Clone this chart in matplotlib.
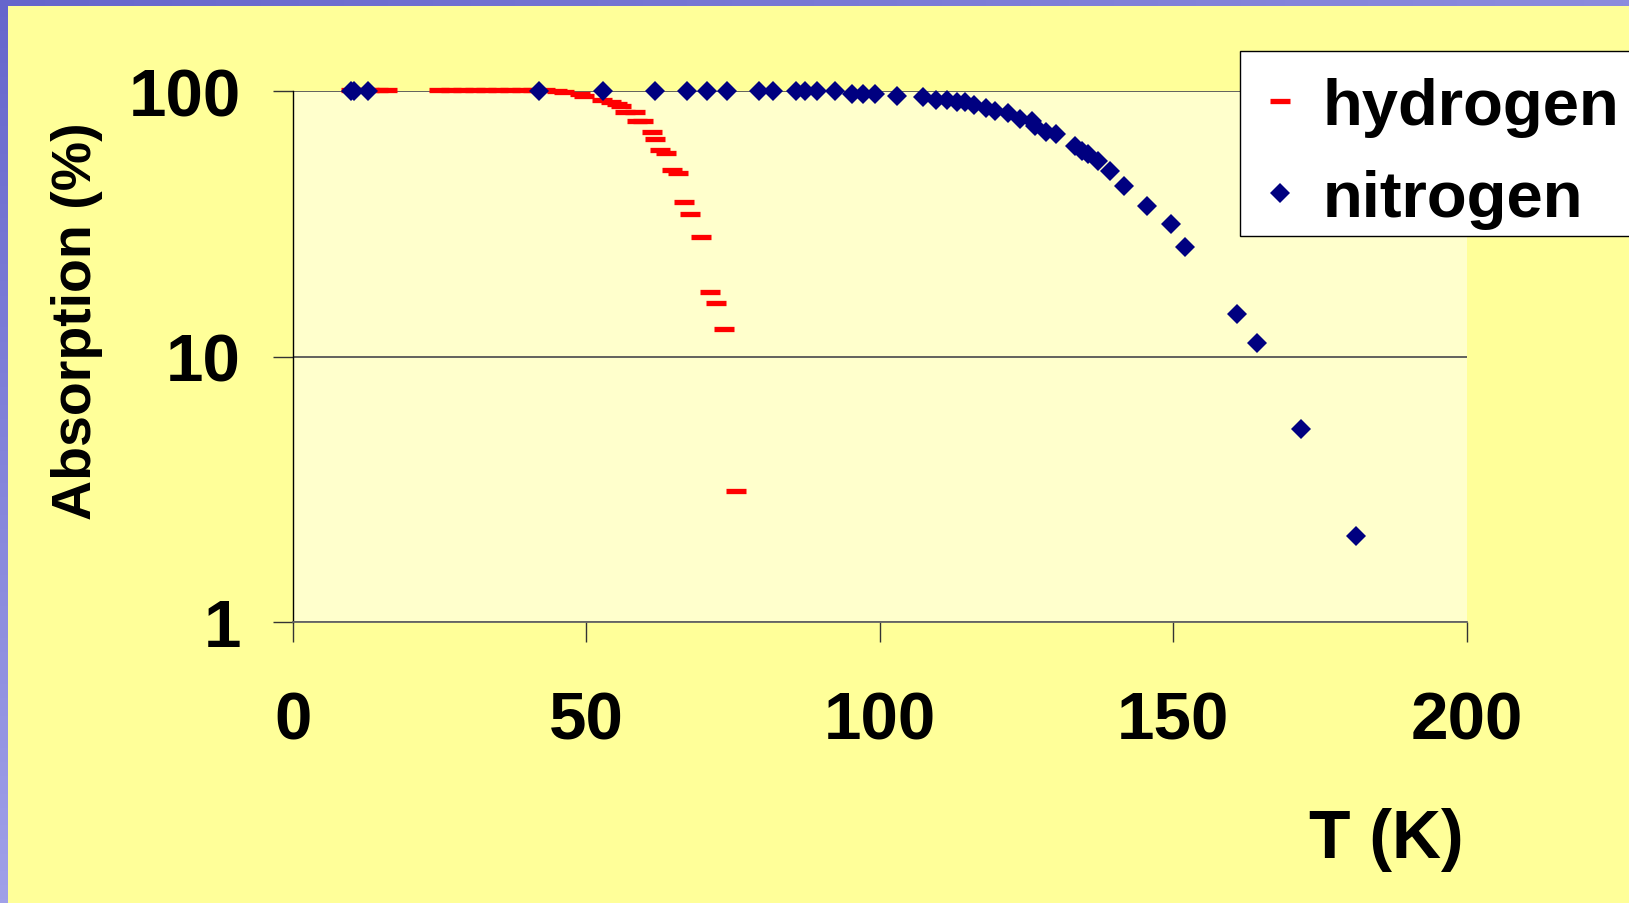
import numpy as np
import matplotlib
matplotlib.use('Agg')
import matplotlib.pyplot as plt
from matplotlib.patches import Rectangle

plt.rcParams['font.family'] = ['Liberation Sans', 'DejaVu Sans']
plt.rcParams['font.weight'] = 'bold'

# ── data ────────────────────────────────────────────────────────────────────
h_temp = [10, 11.5, 13, 14.5, 16,
          25, 27, 29, 31, 33, 35, 37, 39, 41, 43, 45, 46.2, 48.9, 49.6,
          52.7, 54.3, 55.2, 56.0, 56.6, 58.3, 58.6, 59.7, 61.2, 61.7,
          62.6, 63.6, 64.6, 65.6, 66.7, 67.6, 69.6, 71.1, 72.1, 73.5, 75.5]
h_abs = [101, 101, 101, 101, 101,
         101, 101, 101, 101, 101, 101, 101, 101, 101, 101, 100.5, 99.1, 97.7, 96.3,
         93.0, 90.9, 89.5, 87.8, 83.3, 83.3, 77.1, 77.1, 70.1, 66.1,
         60.3, 58.6, 50.6, 49.1, 38.2, 34.5, 28.2, 17.6, 15.9, 12.7, 3.11]

n_temp = [9.9, 10.4, 12.9, 42.0, 52.8, 61.7, 67.1, 70.5, 74.0,
          79.4, 81.9, 85.7, 87.3, 89.4, 92.3, 95.2, 97.2, 99.2, 102.9,
          107.4, 109.6, 111.5, 113.1, 114.5, 116.1, 118.1, 119.6, 121.9,
          123.9, 125.9, 126.5, 128.4, 130.0, 133.3, 134.4, 135.5, 137.2,
          139.2, 141.6, 145.6, 149.6, 152.0, 160.9, 164.3, 171.7, 181.1]
n_abs = [100, 100, 100, 100, 100, 100, 100, 100, 100,
         100, 100, 100, 100, 100, 100, 97.7, 97.7, 97.7, 96.3,
         94.9, 92.7, 92.7, 90.9, 90.9, 89.0, 86.5, 84.1, 82.6,
         78.6, 77.1, 74.2, 70.4, 69.0, 62.4, 59.7, 58.1, 54.8,
         50.2, 43.9, 36.9, 31.6, 25.9, 14.5, 11.3, 5.36, 2.11]

x_ticks = [0, 50, 100, 150, 200]
y_ticks = [1, 10, 100]

W, H = 1629, 904
fig = plt.figure(figsize=(W / 100, H / 100), dpi=100, facecolor='#FFFF99')

# purple frame bands at top and left
top = fig.add_axes([0, 1 - 7 / H, 1, 7 / H])
grad = np.linspace(0, 1, 256)
top_img = np.zeros((1, 256, 3))
top_img[0] = np.outer(1 - grad, [102, 102, 204]) / 255 + np.outer(grad, [140, 140, 222]) / 255
top.imshow(top_img, aspect='auto', extent=[0, 1, 0, 1])
top.axis('off')
left = fig.add_axes([0, 0, 8 / W, 1])
left_img = np.zeros((256, 1, 3))
left_img[:, 0] = np.outer(1 - grad, [102, 102, 204]) / 255 + np.outer(grad, [160, 160, 232]) / 255
left.imshow(left_img, aspect='auto', extent=[0, 1, 0, 1])
left.axis('off')

ax = fig.add_axes([292.7 / W, 1 - 623.3 / H, (1466.7 - 292.7) / W, (623.3 - 92.3) / H])
ax.set_facecolor('#FFFFCC')

ax.plot(h_temp, h_abs, linestyle='none', marker='_', color='#FF0000',
        markersize=15, markeredgewidth=3.8, label='hydrogen', clip_on=False, zorder=3)
ax.plot(n_temp, n_abs, linestyle='none', marker='D', color='#000080',
        markersize=10, markeredgewidth=0, label='nitrogen', clip_on=False, zorder=4)

ax.set_yscale('log')
ax.set_xlim(0, 200)
ax.set_ylim(1, 100)
ax.set_xticks(x_ticks)
ax.set_xticklabels([str(t) for t in x_ticks])
ax.set_yticks(y_ticks)
ax.set_yticklabels([str(t) for t in y_ticks])
ax.yaxis.set_minor_locator(matplotlib.ticker.NullLocator())
ax.tick_params(axis='both', labelsize=48.5, length=14.4, width=1, color='#333333')
ax.tick_params(axis='y', pad=23)
ax.tick_params(axis='x', pad=35)

ax.grid(axis='y', color='#555555', linewidth=1.3)
ax.set_axisbelow(True)
for side in ['top', 'right']:
    ax.spines[side].set_visible(False)
ax.spines['left'].set_color('black')
ax.spines['left'].set_linewidth(1)
ax.spines['bottom'].set_color('#666666')
ax.spines['bottom'].set_linewidth(1.3)

fig.text(77 / W, 1 - 321 / H, 'Absorption (%)', rotation=90, fontsize=40,
         fontweight='bold', ha='center', va='center')
fig.text(1464 / W, 1 - 858 / H, 'T (K)', fontsize=49, fontweight='bold',
         ha='right', va='baseline')

# legend box drawn separately so the entries can sit lower inside it
box = Rectangle((1240 / W, 1 - 236.7 / H), 420 / W, 185 / H, transform=fig.transFigure,
                facecolor='white', edgecolor='black', linewidth=1, clip_on=False, zorder=5)
ax.add_patch(box)
leg = ax.legend(loc='upper left', bbox_to_anchor=(1240 / W, 1 - 62 / H),
                bbox_transform=fig.transFigure, borderaxespad=0, fontsize=47,
                borderpad=0.24, handlelength=0.75, handletextpad=0.28,
                labelspacing=0.50, frameon=False)
leg.set_zorder(6)

fig.savefig('out.png', dpi=100, facecolor=fig.get_facecolor())
